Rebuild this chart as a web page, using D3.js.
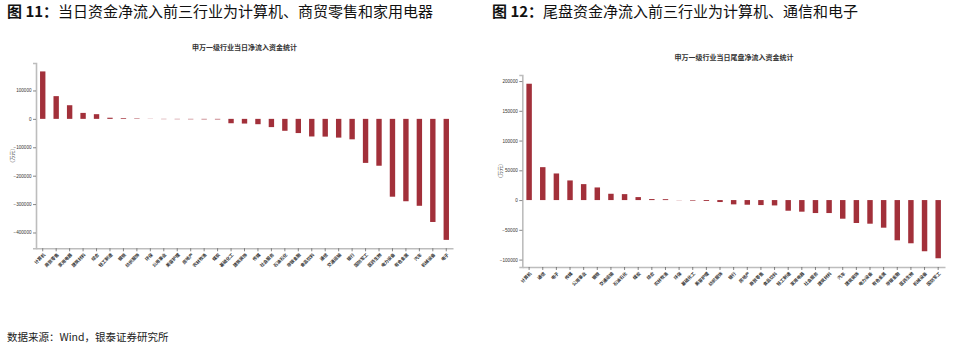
<!DOCTYPE html>
<html><head><meta charset="utf-8">
<script src="https://cdn.jsdelivr.net/npm/d3@7"></script>
<style>body{margin:0;background:#fff;} svg{display:block}</style>
</head><body><svg id="c" width="957" height="350"></svg>
<script>
// ---- Data ----
const leftCaptionNo = "图 11：";
const leftCaption = "当日资金净流入前三行业为计算机、商贸零售和家用电器";
const leftTitle = "申万一级行业当日净流入资金统计";
const leftCategories = ["计算机","商贸零售","家用电器","建筑材料","综合","轻工制造","钢铁","纺织服饰","环保","公用事业","美容护理","房地产","农林牧渔","煤炭","基础化工","建筑装饰","传媒","社会服务","石油石化","非银金融","食品饮料","通信","交通运输","银行","国防军工","医药生物","电力设备","有色金属","汽车","机械设备","电子"];
const leftValues = [167000,80000,48000,21000,16500,4000,2500,1500,500,-1000,-1200,-1500,-1800,-2000,-15400,-16500,-18800,-29000,-42000,-50000,-62000,-62500,-66000,-72000,-155000,-165000,-274000,-290000,-306000,-363000,-426000];
const leftTicks = [100000,0,-100000,-200000,-300000,-400000];

const rightCaptionNo = "图 12：";
const rightCaption = "尾盘资金净流入前三行业为计算机、通信和电子";
const rightTitle = "申万一级行业当日尾盘净流入资金统计";
const rightCategories = ["计算机","通信","电子","传媒","公用事业","钢铁","交通运输","石油石化","煤炭","综合","农林牧渔","环保","基础化工","美容护理","纺织服饰","银行","房地产","商贸零售","食品饮料","轻工制造","家用电器","社会服务","建筑材料","汽车","建筑装饰","电力设备","有色金属","非银金融","医药生物","机械设备","国防军工"];
const rightValues = [195500,55300,44700,33000,26800,21200,10600,10000,5000,1700,1500,-300,-1000,-1500,-3300,-7200,-7800,-8400,-9000,-17900,-19500,-21800,-21800,-31300,-38500,-39700,-46400,-67600,-72600,-86000,-97800];
const rightTicks = [200000,150000,100000,50000,0,-50000,-100000];

const yLabel = "（万元）";
const sourceText = "数据来源：Wind，银泰证券研究所";

// ---- Drawing ----
const svg = d3.select("#c");
const CJK = "'Noto Sans CJK SC','Noto Sans',sans-serif";
const BAR = "#a2303a";

function caption(x, y, no, txt) {
  const t = svg.append("text").attr("x", x).attr("y", y)
    .attr("font-family", CJK).attr("font-size", 15).attr("fill", "#111")
    .attr("dominant-baseline", "middle");
  t.append("tspan").attr("font-weight", "bold").text(no);
  t.append("tspan").text(txt);
}
caption(7, 13, leftCaptionNo, leftCaption);
caption(492, 13, rightCaptionNo, rightCaption);

svg.append("text").attr("x", 7).attr("y", 338)
  .attr("font-family", CJK).attr("font-size", 10.5).attr("fill", "#222")
  .attr("dominant-baseline", "middle").text(sourceText);

function chart(cfg) {
  const g = svg.append("g");
  const [mn, mx] = d3.extent(cfg.values);
  const pad = (mx - mn) * 0.05;
  const y = d3.scaleLinear().domain([mn - pad, mx + pad]).range([cfg.bottom, cfg.top]);
  const x = d3.scaleBand().domain(cfg.categories).range([cfg.left, cfg.right])
    .paddingInner(0.6).paddingOuter(0.3);

  g.append("text").attr("x", cfg.titleX).attr("y", cfg.titleY)
    .attr("text-anchor", "middle").attr("dominant-baseline", "middle")
    .attr("font-family", CJK).attr("font-size", 7).attr("font-weight", "bold")
    .attr("fill", "#333").text(cfg.title);

  g.selectAll("rect.bar").data(cfg.values).join("rect")
    .attr("class", "bar")
    .attr("x", (d, i) => x(cfg.categories[i]))
    .attr("width", x.bandwidth())
    .attr("y", d => y(Math.max(0, d)))
    .attr("height", d => Math.abs(y(d) - y(0)))
    .attr("fill", BAR);

  // y axis
  const ya = g.append("g").attr("transform", `translate(${cfg.left},0)`)
    .call(d3.axisLeft(y).tickValues(cfg.ticks).tickSize(3).tickPadding(1.5).tickFormat(d3.format("d")));
  ya.select(".domain").attr("stroke", "#bdbdbd").attr("stroke-width", 1.6);
  ya.selectAll(".tick line").attr("stroke", "#555").attr("stroke-width", 0.7);
  ya.selectAll(".tick text").attr("font-family", "'Liberation Sans',Arial,sans-serif")
    .attr("font-size", 4.6).attr("fill", "#333");

  // x axis
  const xa = g.append("g").attr("transform", `translate(0,${cfg.bottom})`)
    .call(d3.axisBottom(x).tickSize(3).tickSizeOuter(0));
  xa.select(".domain").attr("stroke", "#bdbdbd").attr("stroke-width", 1.6);
  xa.selectAll(".tick line").attr("stroke", "#555").attr("stroke-width", 0.7);
  xa.selectAll(".tick text")
    .attr("font-family", CJK).attr("font-size", 4.4).attr("font-weight", "bold").attr("fill", "#333")
    .attr("text-anchor", "end").attr("dy", null).attr("y", null)
    .attr("dominant-baseline", "middle")
    .attr("transform", "translate(2,6) rotate(-45)");

  g.append("text")
    .attr("transform", `translate(${cfg.ylabX},${(cfg.top + cfg.bottom) / 2}) rotate(-90)`)
    .attr("text-anchor", "middle").attr("dominant-baseline", "middle")
    .attr("font-family", CJK).attr("font-size", 5).attr("fill", "#444")
    .text(yLabel);
}

chart({categories: leftCategories, values: leftValues, ticks: leftTicks, title: leftTitle,
  left: 36, right: 453, top: 63, bottom: 248.3, titleX: 244.5, titleY: 47.7, ylabX: 12.5});
chart({categories: rightCategories, values: rightValues, ticks: rightTicks, title: rightTitle,
  left: 522.3, right: 945, top: 75, bottom: 267, titleX: 734, titleY: 57.7, ylabX: 500.5});
</script>
</body></html>
